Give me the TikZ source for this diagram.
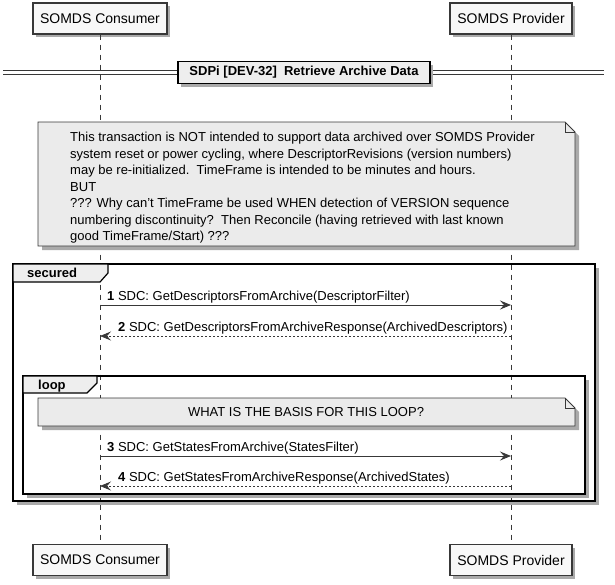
\documentclass[tikz,border=0pt]{standalone}
\usepackage{fontspec}
\setmainfont{Liberation Sans}
\usetikzlibrary{arrows.meta,shadows}
\definecolor{ln}{HTML}{383838}
\definecolor{pfill}{HTML}{F8F8F8}
\definecolor{nfill}{HTML}{EBEBEB}
\definecolor{tfill}{HTML}{EEEEEE}
\definecolor{shd}{HTML}{AAAAAA}
\tikzset{
  part/.style={draw=ln, fill=pfill, line width=1.2pt, minimum height=31, inner sep=0pt,
    font=\fontsize{14}{16}\selectfont,
    drop shadow={shadow xshift=3pt, shadow yshift=-3pt, fill=shd, opacity=1}},
  lifeline/.style={draw=ln, line width=0.7pt, dash pattern=on 5pt off 5pt},
  msgtxt/.style={font=\fontsize{13}{15}\selectfont, inner sep=0pt, anchor=base west},
  call/.style={draw=ln, line width=1pt, -{Stealth[length=11pt,width=9pt,inset=4pt,fill=ln]}},
  reply/.style={draw=ln, line width=0.8pt, dash pattern=on 2pt off 2pt, -{Stealth[length=11pt,width=9pt,inset=4pt,fill=ln]}},
  notebox/.style={draw=ln, fill=nfill, line width=0.8pt},
  shadowfill/.style={fill=shd, draw=none},
  frameshadow/.style={draw=shd, line width=3pt},
  framebox/.style={draw=black, line width=1.8pt},
  tabbox/.style={draw=black, fill=tfill, line width=1.2pt},
  tabtxt/.style={font=\bfseries\fontsize{13}{15}\selectfont, inner sep=0pt, anchor=base west},
}
\begin{document}
\begin{tikzpicture}[x=1pt,y=-1pt]
\useasboundingbox (0,0) rectangle (615,584);

% participants
\node[part, minimum width=134] (ct) at (100,18.5) {SOMDS Consumer};
\node[part, minimum width=122] (pt) at (511,18.5) {SOMDS Provider};
\node[part, minimum width=134] (cb) at (100,560) {SOMDS Consumer};
\node[part, minimum width=122] (pb) at (511,560) {SOMDS Provider};

% lifelines
\draw[lifeline] (ct.south) -- (cb.north);
\draw[lifeline] (pt.south) -- (pb.north);

% divider
\draw[ln, line width=1.1pt] (3,70.5) -- (604,70.5) (3,74.5) -- (604,74.5);
\node[draw=black, fill=tfill, line width=1.5pt, minimum width=252, minimum height=22, inner sep=0pt,
  font=\bfseries\fontsize{13}{15}\selectfont,
  drop shadow={shadow xshift=3pt, shadow yshift=-3pt, fill=shd, opacity=1}] (div) at (304,72.5)
  {SDPi [DEV-32]\ \ Retrieve Archive Data};

% note 1
\fill[shadowfill] (42,126) -- (569,126) -- (579,136) -- (579,250) -- (42,250) -- cycle;
\draw[notebox] (38,122) -- (565,122) -- (575,132) -- (575,246) -- (38,246) -- cycle;
\draw[ln, line width=0.8pt] (565,122) -- (565,132) -- (575,132);
\node[anchor=north west, inner sep=0pt, align=left, font=\fontsize{13}{16.5}\selectfont] (n1) at (70,132)
{This transaction is NOT intended to support data archived over SOMDS Provider\\
system reset or power cycling, where DescriptorRevisions (version numbers)\\
may be re-initialized.\ \ TimeFrame is intended to be minutes and hours.\\
BUT\\
??? Why can't TimeFrame be used WHEN detection of VERSION sequence\\
numbering discontinuity?\ \ Then Reconcile (having retrieved with last known\\
good TimeFrame/Start) ???};

% secured frame
\draw[frameshadow] (597.5,268) -- (597.5,503.5) -- (17,503.5);
\draw[framebox] (13,264) rectangle (595,501);
\draw[tabbox] (13,264) -- (108,264) -- (108,273) -- (100,282) -- (13,282) -- cycle;
\node[tabtxt] (sec) at (27,277.5) {secured};

% messages 1, 2
\coordinate (c1) at (100,305); \coordinate (p1) at (511,305);
\draw[call] (c1) -- (p1);
\node[msgtxt] (m1) at (107,300) {\textbf{1} SDC:\ GetDescriptorsFromArchive(DescriptorFilter)};
\coordinate (c2) at (100,336); \coordinate (p2) at (511,336);
\draw[reply] (p2) -- (c2);
\node[msgtxt] (m2) at (118,331) {\textbf{2} SDC:\ GetDescriptorsFromArchiveResponse(ArchivedDescriptors)};

% loop frame
\draw[frameshadow] (587.5,380) -- (587.5,496.5) -- (27,496.5);
\draw[framebox] (23,376) rectangle (585,494);
\draw[tabbox] (23,376) -- (97,376) -- (97,383) -- (87,393) -- (23,393) -- cycle;
\node[tabtxt] (lp) at (38,389) {loop};

% note 2
\fill[shadowfill] (42,402) -- (569,402) -- (579,412) -- (579,430) -- (42,430) -- cycle;
\draw[notebox] (38,398) -- (565,398) -- (575,408) -- (575,426) -- (38,426) -- cycle;
\draw[ln, line width=0.8pt] (565,398) -- (565,408) -- (575,408);
\node[inner sep=0pt, font=\fontsize{13}{15}\selectfont] (n2) at (306,412) {WHAT IS THE BASIS FOR THIS LOOP?};

% messages 3, 4
\coordinate (c3) at (100,456); \coordinate (p3) at (511,456);
\draw[call] (c3) -- (p3);
\node[msgtxt] (m3) at (107,451) {\textbf{3} SDC:\ GetStatesFromArchive(StatesFilter)};
\coordinate (c4) at (100,486); \coordinate (p4) at (511,486);
\draw[reply] (p4) -- (c4);
\node[msgtxt] (m4) at (118,481) {\textbf{4} SDC:\ GetStatesFromArchiveResponse(ArchivedStates)};
\end{tikzpicture}
\end{document}
